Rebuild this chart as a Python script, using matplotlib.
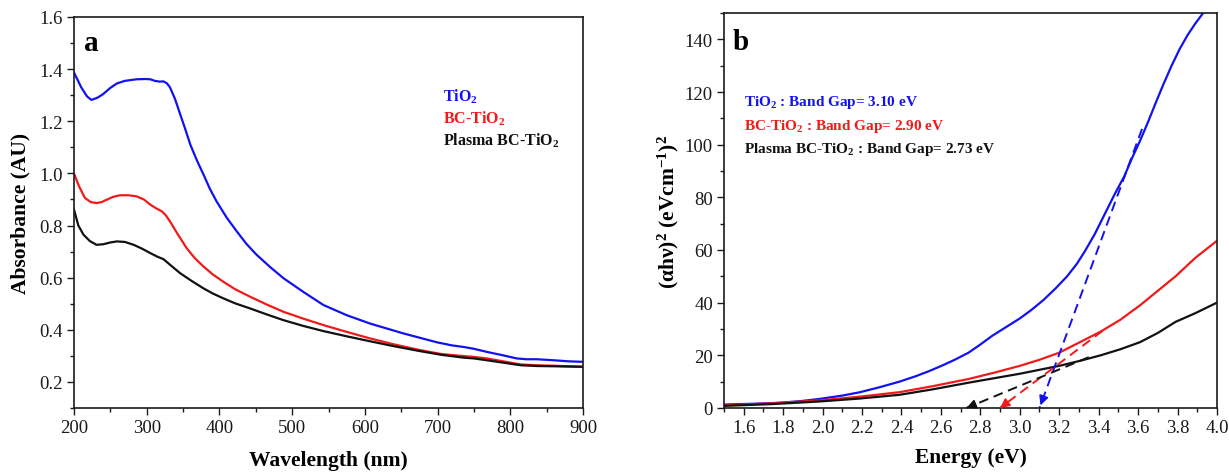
import numpy as np
import matplotlib
matplotlib.use("Agg")
import matplotlib.pyplot as plt
from matplotlib.ticker import MultipleLocator, AutoMinorLocator

plt.rcParams['font.family'] = ['Liberation Serif', 'DejaVu Serif']
plt.rcParams['mathtext.fontset'] = 'custom'
plt.rcParams['mathtext.rm'] = 'Liberation Serif'
plt.rcParams['mathtext.bf'] = 'Liberation Serif:bold'
plt.rcParams['mathtext.it'] = 'Liberation Serif:italic'

BLUE = '#1212f0'
RED = '#f01a1a'
BLACK = '#111111'

# --- panel a: UV-vis absorbance ---
wl_tio2 = [200, 210, 218, 224, 232, 240, 250, 259, 270, 286, 298, 305, 311, 318, 323, 328, 332,
           339, 346, 353, 360, 369, 378, 387, 396, 410, 424, 437, 451, 470, 488, 515, 543,
           575, 607, 653, 699, 720, 736, 750, 768, 790, 809, 822, 836, 860, 880, 900]
abs_tio2 = [1.387, 1.33, 1.295, 1.282, 1.29, 1.304, 1.328, 1.345, 1.355, 1.361, 1.362, 1.361, 1.355,
            1.352, 1.353, 1.345, 1.33, 1.285, 1.227, 1.17, 1.11, 1.05, 0.996, 0.94, 0.893, 0.83,
            0.777, 0.73, 0.688, 0.64, 0.598, 0.546, 0.495, 0.456, 0.424, 0.386, 0.352, 0.34,
            0.334, 0.327, 0.315, 0.302, 0.29, 0.287, 0.287, 0.283, 0.279, 0.277]

wl_bc = [200, 207, 215, 223, 231, 238, 245, 254, 263, 275, 286, 296, 305, 313, 321, 326, 332,
         343, 355, 366, 378, 391, 405, 422, 442, 465, 488, 515, 543, 575, 607, 640, 676,
         705, 736, 750, 768, 790, 814, 836, 860, 880, 900]
abs_bc = [1.0, 0.95, 0.906, 0.89, 0.886, 0.89, 0.899, 0.91, 0.916, 0.916, 0.912, 0.9, 0.88, 0.866,
          0.854, 0.84, 0.816, 0.765, 0.713, 0.675, 0.643, 0.612, 0.585, 0.555, 0.527, 0.497,
          0.469, 0.443, 0.418, 0.392, 0.367, 0.344, 0.322, 0.307, 0.299, 0.296, 0.29, 0.279,
          0.267, 0.264, 0.262, 0.26, 0.258]

wl_plasma = [200, 206, 213, 222, 231, 240, 250, 259, 270, 282, 293, 305, 315, 323, 334, 346,
             362, 378, 391, 405, 422, 442, 465, 488, 515, 543, 575, 607, 640, 676, 705, 736,
             750, 768, 790, 814, 836, 860, 880, 900]
abs_plasma = [0.861, 0.8, 0.765, 0.74, 0.726, 0.728, 0.735, 0.739, 0.737, 0.726, 0.712, 0.694,
              0.68, 0.671, 0.645, 0.617, 0.587, 0.559, 0.539, 0.521, 0.501, 0.482, 0.459, 0.437,
              0.415, 0.395, 0.375, 0.356, 0.337, 0.318, 0.304, 0.293, 0.29, 0.283, 0.274,
              0.264, 0.261, 0.26, 0.259, 0.258]

# --- panel b: Tauc plot ---
e_tio2 = [1.50, 1.65, 1.79, 1.90, 1.99, 2.10, 2.19, 2.29, 2.39, 2.47, 2.54, 2.60, 2.67, 2.74,
          2.80, 2.86, 2.93, 3.00, 3.06, 3.12, 3.18, 3.24, 3.29, 3.33, 3.38, 3.43, 3.48, 3.53,
          3.57, 3.61, 3.65, 3.69, 3.73, 3.77, 3.81, 3.85, 3.89, 3.93]
tauc_tio2 = [1.3, 1.6, 2.0, 2.7, 3.5, 4.7, 6.0, 7.9, 10.0, 12.0, 14.0, 15.9, 18.3, 21.0,
             24.1, 27.4, 30.7, 34.0, 37.3, 41.0, 45.3, 50.0, 54.8, 59.5, 66.0, 73.5, 81.0, 88.0,
             95.0, 101.5, 108.5, 116.0, 123.2, 130.0, 136.2, 141.5, 146.0, 150.0]

e_bc = [1.50, 1.75, 1.99, 2.19, 2.39, 2.56, 2.74, 2.87, 3.00, 3.10, 3.20, 3.30, 3.41, 3.51,
        3.61, 3.70, 3.79, 3.89, 4.00]
tauc_bc = [1.0, 1.8, 2.9, 4.3, 6.0, 8.3, 11.0, 13.4, 16.0, 18.3, 21.0, 24.8, 29.0, 33.5,
           39.0, 44.5, 50.0, 57.0, 63.5]

e_plasma = [1.50, 1.75, 1.99, 2.19, 2.39, 2.56, 2.74, 2.87, 3.00, 3.10, 3.20, 3.30, 3.41, 3.51,
            3.61, 3.70, 3.79, 3.89, 4.00]
tauc_plasma = [0.8, 1.5, 2.5, 3.6, 5.0, 7.1, 9.6, 11.3, 13.0, 14.5, 16.0, 17.8, 20.0, 22.3,
               25.0, 28.5, 32.7, 36.0, 40.0]

band_gaps = [3.10, 2.90, 2.73]
tangent_top_e = [3.62, 3.42, 3.35]
tangent_top_y = [106.0, 29.3, 19.3]

fig = plt.figure(figsize=(12.29, 4.77), dpi=100)
ax1 = fig.add_axes([0.0602, 0.1426, 0.4142, 0.8197])
ax2 = fig.add_axes([0.5891, 0.1426, 0.4011, 0.828])

for ax in (ax1, ax2):
    for s in ax.spines.values():
        s.set_linewidth(1.2)
        s.set_color('#1a1a1a')
    ax.tick_params(which='major', direction='out', length=5, width=1.0, labelsize=13.5,
                   colors='#1a1a1a', pad=3)
    ax.tick_params(which='minor', direction='out', length=3, width=1.0, colors='#1a1a1a')

# panel a
ax1.plot(wl_tio2, abs_tio2, color=BLUE, lw=1.6)
ax1.plot(wl_bc, abs_bc, color=RED, lw=1.6)
ax1.plot(wl_plasma, abs_plasma, color=BLACK, lw=1.6)
ax1.set_xlim(200, 900)
ax1.set_ylim(0.1, 1.6)
ax1.xaxis.set_major_locator(MultipleLocator(100))
ax1.xaxis.set_minor_locator(AutoMinorLocator(2))
ax1.set_yticks([0.2, 0.4, 0.6, 0.8, 1.0, 1.2, 1.4, 1.6])
ax1.set_yticklabels(['0.2', '0.4', '0.6', '0.8', '1.0', '1.2', '1.4', '1.6'])
ax1.yaxis.set_minor_locator(AutoMinorLocator(2))
ax1.set_xlabel('Wavelength (nm)', fontsize=15.5, fontweight='bold')
ax1.set_ylabel('Absorbance (AU)', fontsize=15.5, fontweight='bold')
ax1.xaxis.set_label_coords(0.5, -0.108)
ax1.yaxis.set_label_coords(-0.086, 0.5)
ax1.text(0.02, 0.916, 'a', transform=ax1.transAxes, fontsize=21, fontweight='bold')
ax1.text(0.725, 0.786, r'TiO$_\mathbf{2}$', transform=ax1.transAxes, color=BLUE,
         fontsize=11.5, fontweight='bold')
ax1.text(0.725, 0.729, r'BC-TiO$_\mathbf{2}$', transform=ax1.transAxes, color=RED,
         fontsize=11.5, fontweight='bold')
ax1.text(0.725, 0.673, r'Plasma BC-TiO$_\mathbf{2}$', transform=ax1.transAxes, color=BLACK,
         fontsize=11.5, fontweight='bold')

# panel b
ax2.plot(e_tio2, tauc_tio2, color=BLUE, lw=1.6)
ax2.plot(e_bc, tauc_bc, color=RED, lw=1.6)
ax2.plot(e_plasma, tauc_plasma, color=BLACK, lw=1.6)
for gap, te, ty, c in zip(band_gaps, tangent_top_e, tangent_top_y, [BLUE, RED, BLACK]):
    ax2.plot([te, gap], [ty, 0], color=c, lw=1.4, ls=(0, (5, 3)))
    dx = (gap - te) * 0.03
    dy = (0 - ty) * 0.03
    ax2.annotate('', xy=(gap, 0), xytext=(gap - dx, -dy),
                 arrowprops=dict(arrowstyle='-|>', color=c, lw=1.2, mutation_scale=14),
                 annotation_clip=False)
ax2.set_xlim(1.5, 4.0)
ax2.set_ylim(0, 150)
ax2.set_xticks([1.6, 1.8, 2.0, 2.2, 2.4, 2.6, 2.8, 3.0, 3.2, 3.4, 3.6, 3.8, 4.0])
ax2.xaxis.set_minor_locator(MultipleLocator(0.1))
ax2.yaxis.set_major_locator(MultipleLocator(20))
ax2.yaxis.set_minor_locator(MultipleLocator(10))
ax2.set_xlabel('Energy (eV)', fontsize=15.5, fontweight='bold')
ax2.set_ylabel(r'(αhν)$^\mathbf{2}$ (eVcm$^\mathbf{-1}$)$^\mathbf{2}$', fontsize=15.5,
               fontweight='bold')
ax2.xaxis.set_label_coords(0.5, -0.1)
ax2.yaxis.set_label_coords(-0.088, 0.5)
ax2.text(0.018, 0.909, 'b', transform=ax2.transAxes, fontsize=21, fontweight='bold')
ax2.text(0.0406, 0.767, r'TiO$_\mathbf{2}$ : Band Gap= 3.10 eV', transform=ax2.transAxes,
         color=BLUE, fontsize=11, fontweight='bold')
ax2.text(0.0406, 0.706, r'BC-TiO$_\mathbf{2}$ : Band Gap= 2.90 eV', transform=ax2.transAxes,
         color=RED, fontsize=11, fontweight='bold')
ax2.text(0.0406, 0.649, r'Plasma BC-TiO$_\mathbf{2}$ : Band Gap= 2.73 eV',
         transform=ax2.transAxes, color=BLACK, fontsize=11, fontweight='bold')

fig.savefig('out.png', dpi=100)
